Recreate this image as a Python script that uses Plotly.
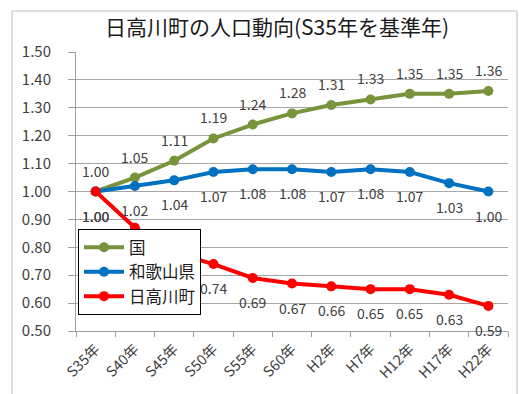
import plotly.graph_objects as go

categories = ["S35年", "S40年", "S45年", "S50年", "S55年", "S60年", "H2年", "H7年", "H12年", "H17年", "H22年"]
kuni = [1.00, 1.05, 1.11, 1.19, 1.24, 1.28, 1.31, 1.33, 1.35, 1.35, 1.36]
wakayama = [1.00, 1.02, 1.04, 1.07, 1.08, 1.08, 1.07, 1.08, 1.07, 1.03, 1.00]
hidakagawa = [1.00, 0.87, 0.78, 0.74, 0.69, 0.67, 0.66, 0.65, 0.65, 0.63, 0.59]

series = [
    ("国", kuni, "#77933C", 21),
    ("和歌山県", wakayama, "#0070C0", -24),
    ("日高川町", hidakagawa, "#FF0000", -24),
]
# labels hidden behind the legend in the reference
hidden = {("日高川町", 1), ("日高川町", 2)}

W, H = 519, 394
L, R, T, B = 76, 11, 52, 63
pw, ph = W - L - R, H - T - B

FONT = "Noto Sans CJK JP"
fig = go.Figure()
annotations = []
for name, vals, col, shift in series:
    fig.add_trace(go.Scatter(
        x=categories, y=vals, name=name, mode="lines+markers",
        line=dict(color=col, width=4), marker=dict(color=col, size=10),
        cliponaxis=False,
    ))
    for i, (c, v) in enumerate(zip(categories, vals)):
        if (name, i) in hidden:
            continue
        annotations.append(dict(x=c, y=v, xref="x", yref="y", text=f"{v:.2f}",
                                showarrow=False, yshift=shift,
                                font=dict(family=FONT, size=14, color="#404040")))

fig.update_layout(
    width=W, height=H,
    margin=dict(l=L, r=R, t=T, b=B),
    paper_bgcolor="white", plot_bgcolor="white",
    font=dict(family=FONT, color="#404040"),
    title=dict(text="日高川町の人口動向(S35年を基準年)", x=277 / W, xanchor="center",
               y=1 - 28 / H, yanchor="middle", xref="container", yref="container",
               font=dict(family=FONT, size=21, color="#1a1a1a")),
    showlegend=True,
    legend=dict(x=(78 - L) / pw, y=(H - B - 229) / ph, xanchor="left", yanchor="top",
                bgcolor="white", bordercolor="black", borderwidth=1,
                font=dict(family=FONT, size=16.5, color="#1a1a1a"),
                tracegroupgap=0, itemwidth=40),
    xaxis=dict(type="category", showgrid=False, showline=True, linecolor="#a0a0a0",
               ticks="outside", tickson="boundaries", ticklen=5, tickcolor="#a0a0a0",
               tickangle=-45, tickfont=dict(family=FONT, size=14.5, color="#404040"),
               ticklabelstandoff=3,
               range=[-0.5, 10.5]),
    yaxis=dict(range=[0.5, 1.5], dtick=0.1, tickformat=".2f", showgrid=True,
               gridcolor="#a6a6a6", gridwidth=1, showline=True, linecolor="#a0a0a0",
               ticks="outside", ticklen=7, tickcolor="#a0a0a0", zeroline=False,
               ticklabelstandoff=14,
               tickfont=dict(family=FONT, size=15, color="#404040")),
    annotations=annotations,
    shapes=[dict(type="rect", xref="paper", yref="paper",
                 x0=(12 - L) / pw, x1=(517 - L) / pw,
                 y0=-0.5, y1=(H - B - 11) / ph,
                 line=dict(color="#bfbfbf", width=1), layer="below")],
)

fig.write_html("out.html")
